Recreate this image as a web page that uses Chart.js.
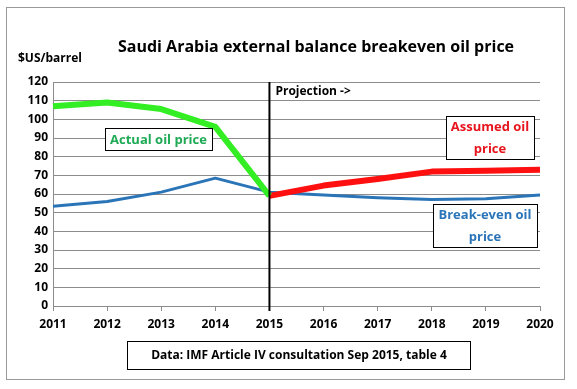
<!DOCTYPE html>
<html lang="en">
    <head>
        <meta charset="utf-8" />
        <title>Saudi Arabia breakeven oil price</title>
        <style>
            html, body { margin: 0; padding: 0; background: #fff; }
            #wrap { width: 577px; height: 389px; }
        </style>
    </head>
    <body>
        <div id="wrap"><canvas id="grafico" width="577" height="389"></canvas></div>

        <script src="https://cdn.jsdelivr.net/npm/chart.js@4.4.0/dist/chart.umd.min.js"></script>

        <script>
            // datos
            const years = ["2011", "2012", "2013", "2014", "2015", "2016", "2017", "2018", "2019", "2020"];
            const actualPrice = [107, 109, 105.5, 96, 59, null, null, null, null, null];
            const assumedPrice = [null, null, null, null, 59, 64.5, 68, 72, 72.5, 73];
            const breakevenPrice = [53.5, 56, 61, 68.5, 61, 59.5, 58, 57, 57.5, 59.5];
            const yTicks = [0, 10, 20, 30, 40, 50, 60, 70, 80, 90, 100, 110, 120];

            const FONT = "'Open Sans', 'Liberation Sans', sans-serif";
            const gris = "#8c8c8c";

            function caja(ctx, x, y, w, h, lineas, color) {
                ctx.save();
                ctx.fillStyle = "#fff";
                ctx.fillRect(x, y, w, h);
                ctx.strokeStyle = "#000";
                ctx.lineWidth = 1;
                ctx.strokeRect(x + 0.5, y + 0.5, w, h);
                ctx.fillStyle = color;
                ctx.font = "bold 13px " + FONT;
                ctx.textAlign = "center";
                ctx.textBaseline = "middle";
                const paso = h / lineas.length;
                lineas.forEach(function (t, i) {
                    ctx.fillText(t, x + w / 2, y + paso * (i + 0.5) + 1);
                });
                ctx.restore();
            }

            const extras = {
                id: "extras",
                beforeDraw: function (chart) {
                    const ctx = chart.ctx;
                    ctx.save();
                    ctx.fillStyle = "#fff";
                    ctx.fillRect(0, 0, chart.width, chart.height);
                    ctx.strokeStyle = "#9a9a9a";
                    ctx.lineWidth = 1;
                    ctx.strokeRect(6.5, 7.5, 558, 372);
                    ctx.restore();
                },
                afterDatasetsDraw: function (chart) {
                    const ctx = chart.ctx;
                    const xs = chart.scales.x;
                    const area = chart.chartArea;
                    // linea vertical de proyeccion
                    const x15 = xs.getPixelForValue(4);
                    ctx.save();
                    ctx.strokeStyle = "#000";
                    ctx.lineWidth = 2;
                    ctx.beginPath();
                    ctx.moveTo(x15, area.top);
                    ctx.lineTo(x15, area.bottom + 5);
                    ctx.stroke();

                    ctx.fillStyle = "#000";
                    ctx.font = "bold 12px " + FONT;
                    ctx.textBaseline = "middle";
                    ctx.textAlign = "left";
                    ctx.fillText("Projection ->", x15 + 6, area.top + 10);
                    ctx.restore();

                    caja(ctx, 105, 128, 107, 22, ["Actual oil price"], "#1faa55");
                    caja(ctx, 446, 116, 88, 43, ["Assumed oil", "price"], "#e8141c");
                    caja(ctx, 433, 204, 104, 43, ["Break-even oil", "price"], "#2a74b8");
                },
                afterDraw: function (chart) {
                    const ctx = chart.ctx;
                    ctx.save();
                    ctx.fillStyle = "#000";
                    ctx.textBaseline = "middle";
                    ctx.font = "bold 16px " + FONT;
                    ctx.textAlign = "center";
                    ctx.fillText("Saudi Arabia external balance breakeven oil price", 316, 47);
                    ctx.font = "bold 12px " + FONT;
                    ctx.textAlign = "left";
                    ctx.fillText("$US/barrel", 18, 59);
                    ctx.restore();

                    ctx.save();
                    ctx.fillStyle = "#fff";
                    ctx.fillRect(127, 341, 343, 28);
                    ctx.strokeStyle = "#000";
                    ctx.lineWidth = 1;
                    ctx.strokeRect(127.5, 341.5, 343, 28);
                    ctx.fillStyle = "#000";
                    ctx.font = "bold 12px " + FONT;
                    ctx.textAlign = "center";
                    ctx.textBaseline = "middle";
                    ctx.fillText("Data: IMF Article IV consultation Sep 2015, table 4", 299, 356);
                    ctx.restore();
                },
            };

            new Chart(document.getElementById("grafico").getContext("2d"), {
                type: "line",
                data: {
                    labels: years,
                    datasets: [
                        {
                            label: "Actual oil price",
                            data: actualPrice,
                            borderColor: "#33ee22",
                            borderWidth: 6,
                            pointRadius: 0,
                            borderJoinStyle: "round",
                            tension: 0,
                        },
                        {
                            label: "Assumed oil price",
                            data: assumedPrice,
                            borderColor: "#ff1010",
                            borderWidth: 6,
                            pointRadius: 0,
                            borderJoinStyle: "round",
                            tension: 0,
                        },
                        {
                            label: "Break-even oil price",
                            data: breakevenPrice,
                            borderColor: "#2a74b8",
                            borderWidth: 3,
                            pointRadius: 0,
                            borderJoinStyle: "round",
                            tension: 0,
                        },
                    ],
                },
                options: {
                    responsive: false,
                    animation: false,
                    layout: { padding: { left: 10, right: 37, top: 82, bottom: 53 } },
                    plugins: {
                        legend: { display: false },
                        title: { display: false },
                        tooltip: { enabled: false },
                    },
                    scales: {
                        x: {
                            offset: false,
                            afterFit: function (s) { s.height = 30; },
                            grid: { drawOnChartArea: false, drawTicks: true, tickLength: 5, color: gris },
                            border: { color: gris, width: 1 },
                            ticks: { color: "#000", font: { family: FONT, size: 12, weight: "bold" }, padding: 6, maxRotation: 0, autoSkip: false },
                        },
                        y: {
                            min: 0,
                            max: 120,
                            afterFit: function (s) { s.width = 43; },
                            afterBuildTicks: function (s) { s.ticks = yTicks.map(function (v) { return { value: v }; }); },
                            grid: { color: gris, drawTicks: false },
                            border: { color: gris, width: 1 },
                            ticks: { color: "#000", font: { family: FONT, size: 12, weight: "bold" }, padding: 5 },
                        },
                    },
                },
                plugins: [extras],
            });
        </script>
    </body>
</html>
